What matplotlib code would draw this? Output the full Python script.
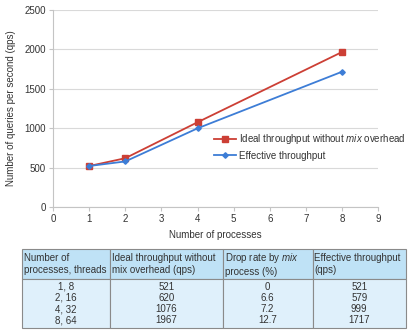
import matplotlib.pyplot as plt

plt.rcParams['font.family'] = ['Liberation Sans', 'DejaVu Sans']
plt.rcParams['mathtext.fontset'] = 'custom'
plt.rcParams['mathtext.rm'] = 'Liberation Sans'
plt.rcParams['mathtext.it'] = 'Liberation Sans:italic'

# measurements
processes = [1, 2, 4, 8]
threads = [8, 16, 32, 64]
ideal_qps = [521, 620, 1076, 1967]
drop_rate = [0, 6.6, 7.2, 12.7]
effective_qps = [521, 579, 999, 1717]

red = '#cc3f35'
blue = '#3d7dd6'
txt = '#333333'
axc = '#c4c4c4'

fig = plt.figure(figsize=(4.11, 3.34), dpi=100)

ax = fig.add_axes([0.129, 0.380, 0.791, 0.590])
ax.plot(processes, ideal_qps, '-s', color=red, lw=1.3, ms=4.5,
        label=r'Ideal throughput without $\mathit{mix}$ overhead')
ax.plot(processes, effective_qps, '-D', color=blue, lw=1.3, ms=2.8,
        label='Effective throughput')

ax.set_xlim(0, 9)
ax.set_ylim(0, 2500)
ax.set_xticks(range(0, 10))
ax.set_yticks(range(0, 2501, 500))
ax.grid(axis='y', color='#d9d9d9', lw=0.8)
ax.set_axisbelow(True)
for s in ['top', 'right']:
    ax.spines[s].set_visible(False)
for s in ['left', 'bottom']:
    ax.spines[s].set_color(axc)
    ax.spines[s].set_linewidth(0.8)
ax.tick_params(colors=axc, labelcolor=txt, labelsize=7, length=3, width=0.8, pad=2)
ax.set_xlabel('Number of processes', fontsize=7, color=txt, labelpad=4)
ax.set_ylabel('Number of queries per second (qps)', fontsize=7, color=txt, labelpad=6)

fig.legend(loc='upper left', bbox_to_anchor=(0.512, 0.615), frameon=False,
           fontsize=7, handlelength=2.2, handletextpad=0.3, labelspacing=0.45,
           labelcolor=txt, borderaxespad=0)

# table below the chart
tax = fig.add_axes([0.0535, 0.018, 0.934, 0.236])
tax.axis('off')
header = ['Number of\nprocesses, threads',
          'Ideal throughput without\nmix overhead (qps)',
          r'Drop rate by $\mathit{mix}$' + '\nprocess (%)',
          'Effective throughput\n(qps)']
body = ['\n'.join(f'{p}, {t}' for p, t in zip(processes, threads)),
        '\n'.join(str(v) for v in ideal_qps),
        '\n'.join(str(v) for v in drop_rate),
        '\n'.join(str(v) for v in effective_qps)]
widths = [0.229, 0.294, 0.234, 0.243]
tbl = tax.table(cellText=[header, body], colWidths=widths, bbox=[0, 0, 1, 1])
tbl.auto_set_font_size(False)
for (r, c), cell in tbl.get_celld().items():
    cell.set_edgecolor('#8a8a8a')
    cell.set_linewidth(0.8)
    cell.get_text().set_fontsize(7)
    cell.get_text().set_color(txt)
    cell.get_text().set_linespacing(1.25 if r == 0 else 1.15)
    if r == 0:
        cell.set_facecolor('#bfe2f6')
        cell.set_height(0.38)
        cell.get_text().set_ha('left')
        cell.PAD = 0.02
    else:
        cell.set_facecolor('#dff0fb')
        cell.set_height(0.62)
        cell.get_text().set_ha('center')

fig.savefig('out.png', dpi=100)
